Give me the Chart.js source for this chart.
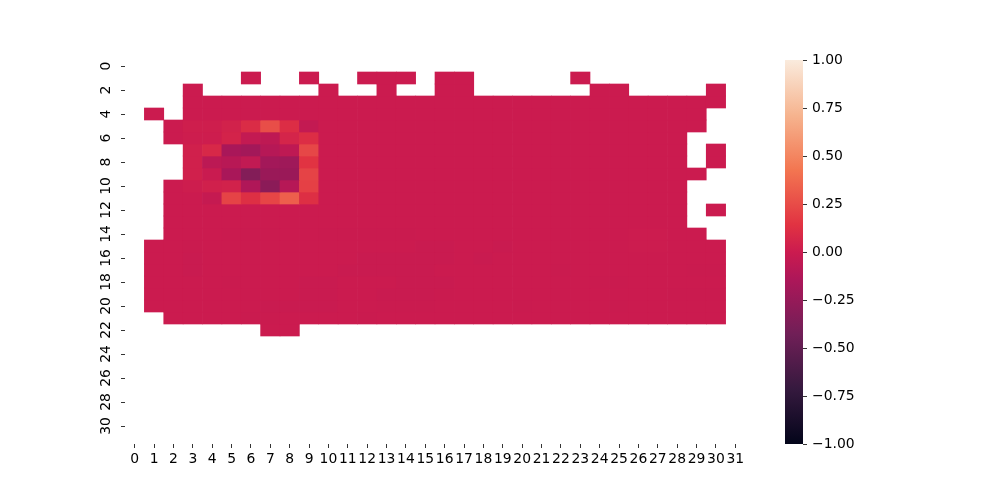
<!DOCTYPE html>
<html>
<head>
<meta charset="utf-8">
<script src="https://cdn.jsdelivr.net/npm/chart.js@4.4.1/dist/chart.umd.min.js"></script>
<style>
  body { margin: 0; background: #fff; }
  #wrap { position: relative; width: 1000px; height: 500px; }
  #heat { position: absolute; left: 0; top: 0; }
  #cbar { position: absolute; left: 770px; top: 0; }
</style>
</head>
<body>
<div id="wrap">
  <canvas id="heat" width="1000" height="500"></canvas>
  <canvas id="cbar" width="100" height="500"></canvas>
</div>
<script>
const _ = null;

// column labels (x) and labelled rows (y)
const xLabels = ['0','1','2','3','4','5','6','7','8','9','10','11','12','13','14','15',
                 '16','17','18','19','20','21','22','23','24','25','26','27','28','29','30','31'];
const yTicks = [0, 2, 4, 6, 8, 10, 12, 14, 16, 18, 20, 22, 24, 26, 28, 30];
const cbarMin = -1;
const cbarMax = 1;

// cell values, one list per row (null = no data)
const cellValues = [
  [_,_,_,_,_,_,_,_,_,_,  _,_,_,_,_,_,_,_,_,_,  _,_,_,_,_,_,_,_,_,_,  _,_],
  [_,_,_,_,_,_,0,_,_,0,  _,_,0,0,0,_,0,0,_,_,  _,_,_,0,_,_,_,_,_,_,  _,_],
  [_,_,_,0,_,_,_,_,_,_,  0,_,_,0,_,_,0,0,_,_,  _,_,_,_,0,0,_,_,_,_,  0,_],
  [_,_,_,0,0,0,0,0,0,0,  0,0,0,0,0,0,0,0,0,0,  0,0,0,0,0,0,0,0,0,0,  0,_],
  [_,0,_,0,0,0,0,0,0,0,  0,0,0,0,0,0,0,0,0,0,  0,0,0,0,0,0,0,0,0,0,  _,_],
  [_,_,0,.02,.02,.04,.10,.26,.11,-.04,  0,0,0,0,0,0,0,0,0,0,  0,0,0,0,0,0,0,0,0,0,  _,_],
  [_,_,0,.01,.01,.05,-.04,-.06,.06,.11,  0,0,0,0,0,0,0,0,0,0,  0,0,0,0,0,0,0,0,0,_,  _,_],
  [_,_,_,.03,.08,-.16,-.19,-.10,-.06,.23,  0,0,0,0,0,0,0,0,0,0,  0,0,0,0,0,0,0,0,0,_,  0,_],
  [_,_,_,.03,-.07,-.09,-.05,-.19,-.21,.14,  0,0,0,0,0,0,0,0,0,0,  0,0,0,0,0,0,0,0,0,_,  0,_],
  [_,_,_,.03,-.01,-.16,-.34,-.23,-.23,.21,  0,0,0,0,0,0,0,0,0,0,  0,0,0,0,0,0,0,0,0,0,  _,_],
  [_,_,0,.01,.03,.04,-.13,-.30,-.10,.20,  0,0,0,0,0,0,0,0,0,0,  0,0,0,0,0,0,0,0,0,_,  _,_],
  [_,_,0,0,-.03,.21,.12,.22,.33,.12,  0,0,0,0,0,0,0,0,0,0,  0,0,0,0,0,0,0,0,0,_,  _,_],
  [_,_,0,0,0,0,0,0,0,0,  0,0,0,0,0,0,0,0,0,0,  0,0,0,0,0,0,0,0,0,_,  0,_],
  [_,_,0,0,0,0,0,0,0,0,  0,0,0,0,0,0,0,0,0,0,  0,0,0,0,0,0,0,0,0,_,  _,_],
  [_,_,0,0,0,-.005,-.005,-.005,0,0,  -.005,-.005,-.005,-.005,-.005,0,0,0,0,0,  0,0,0,0,0,0,.005,.005,0,0,  _,_],
  [_,0,0,-.005,0,0,0,0,0,0,  0,0,0,0,0,-.01,-.01,0,0,-.01,  0,0,0,0,0,0,.005,.005,0,0,  0,_],
  [_,0,0,-.01,0,0,0,0,0,0,  0,0,-.01,-.01,-.01,-.01,-.01,0,-.01,0,  0,0,0,0,0,0,0,0,0,0,  0,_],
  [_,0,0,-.01,0,0,0,0,0,0,  0,-.01,-.01,-.01,-.01,-.01,0,0,0,0,  0,0,-.005,0,0,0,0,0,0,-.005,  -.005,_],
  [_,0,0,0,0,-.005,0,0,0,-.01,  -.01,0,0,0,-.01,-.01,-.01,0,0,0,  0,0,0,0,-.005,-.005,0,0,0,0,  0,_],
  [_,0,0,0,0,0,0,0,0,-.01,  -.01,0,0,-.01,-.01,-.01,-.005,0,0,0,  0,0,0,0,0,0,0,0,-.005,-.005,  -.005,_],
  [_,0,0,0,0,0,0,-.01,-.01,-.01,  -.01,0,0,-.005,-.005,-.005,0,0,0,0,  -.005,0,0,0,0,-.005,0,0,0,0,  0,_],
  [_,_,0,0,0,0,-.005,-.005,0,0,  0,0,-.005,0,0,0,0,0,0,0,  0,0,0,0,0,0,0,0,0,0,  0,_],
  [_,_,_,_,_,_,_,0,0,_,  _,_,_,_,_,_,_,_,_,_,  _,_,_,_,_,_,_,_,_,_,  _,_],
  [_,_,_,_,_,_,_,_,_,_,  _,_,_,_,_,_,_,_,_,_,  _,_,_,_,_,_,_,_,_,_,  _,_],
  [_,_,_,_,_,_,_,_,_,_,  _,_,_,_,_,_,_,_,_,_,  _,_,_,_,_,_,_,_,_,_,  _,_],
  [_,_,_,_,_,_,_,_,_,_,  _,_,_,_,_,_,_,_,_,_,  _,_,_,_,_,_,_,_,_,_,  _,_],
  [_,_,_,_,_,_,_,_,_,_,  _,_,_,_,_,_,_,_,_,_,  _,_,_,_,_,_,_,_,_,_,  _,_],
  [_,_,_,_,_,_,_,_,_,_,  _,_,_,_,_,_,_,_,_,_,  _,_,_,_,_,_,_,_,_,_,  _,_],
  [_,_,_,_,_,_,_,_,_,_,  _,_,_,_,_,_,_,_,_,_,  _,_,_,_,_,_,_,_,_,_,  _,_],
  [_,_,_,_,_,_,_,_,_,_,  _,_,_,_,_,_,_,_,_,_,  _,_,_,_,_,_,_,_,_,_,  _,_],
  [_,_,_,_,_,_,_,_,_,_,  _,_,_,_,_,_,_,_,_,_,  _,_,_,_,_,_,_,_,_,_,  _,_],
  [_,_,_,_,_,_,_,_,_,_,  _,_,_,_,_,_,_,_,_,_,  _,_,_,_,_,_,_,_,_,_,  _,_]
];

cellValues.forEach((row, i) => {
  if (row.length !== xLabels.length) throw new Error('row ' + i + ' has ' + row.length + ' cells');
});

// seaborn "rocket" colormap, approximated by stops
const rocketStops = [
  [0, '#03051a'], [1 / 7, '#35193e'], [2 / 7, '#701f57'], [3 / 7, '#ad1759'],
  [0.5, '#cb1b4f'], [4 / 7, '#e13342'], [5 / 7, '#f37651'], [6 / 7, '#f6b48f'], [1, '#faebdd']
];

function hexToRgb(h) {
  return [parseInt(h.slice(1, 3), 16), parseInt(h.slice(3, 5), 16), parseInt(h.slice(5, 7), 16)];
}

function rocket(v) {
  let p = (v - cbarMin) / (cbarMax - cbarMin);
  p = Math.max(0, Math.min(1, p));
  for (let i = 1; i < rocketStops.length; i++) {
    const [p1, c1] = rocketStops[i];
    if (p <= p1) {
      const [p0, c0] = rocketStops[i - 1];
      const t = (p - p0) / (p1 - p0);
      const a = hexToRgb(c0), b = hexToRgb(c1);
      const rgb = a.map((x, k) => Math.round(x + (b[k] - x) * t));
      return `rgb(${rgb[0]},${rgb[1]},${rgb[2]})`;
    }
  }
  return rocketStops[rocketStops.length - 1][1];
}

const font = { family: "'DejaVu Sans', sans-serif", size: 13.9 };
const tickColor = '#000';

// one floating-bar dataset per row, bars span [row, row + 1]
const datasets = cellValues.map((row, r) => ({
  label: 'row ' + r,
  data: row.map(v => (v === null ? null : [r, r + 1])),
  backgroundColor: row.map(v => (v === null ? 'rgba(0,0,0,0)' : rocket(v))),
  borderWidth: 0,
  grouped: false,
  barPercentage: 1,
  categoryPercentage: 1
}));

new Chart(document.getElementById('heat'), {
  type: 'bar',
  data: { labels: xLabels, datasets: datasets },
  options: {
    responsive: false,
    animation: false,
    layout: { padding: { left: 85, right: 255, top: 60, bottom: 16 } },
    plugins: { legend: { display: false }, tooltip: { enabled: false } },
    scales: {
      x: {
        type: 'category',
        offset: true,
        afterFit: s => { s.height = 40; },
        border: { display: false },
        grid: { display: true, drawOnChartArea: false, drawTicks: true, tickLength: 4, offset: false,
                color: tickColor, lineWidth: 0.8 },
        ticks: { color: tickColor, font: font, autoSkip: false, maxRotation: 0, minRotation: 0, padding: 3 }
      },
      y: {
        type: 'linear',
        min: 0,
        max: cellValues.length,
        reverse: true,
        afterFit: s => { s.width = 40; },
        afterBuildTicks: s => { s.ticks = yTicks.map(t => ({ value: t + 0.5 })); },
        border: { display: false },
        grid: { display: true, drawOnChartArea: false, drawTicks: true, tickLength: 4,
                color: tickColor, lineWidth: 0.8 },
        ticks: {
          color: tickColor, font: font, autoSkip: false,
          minRotation: 90, maxRotation: 90, crossAlign: 'center', padding: 6,
          callback: v => String(v - 0.5)
        }
      }
    }
  }
});

// colour bar
function cbarGradient(ctx) {
  const chart = ctx.chart;
  if (!chart.chartArea) return null;
  const y = chart.scales.y;
  const g = chart.ctx.createLinearGradient(0, y.getPixelForValue(cbarMin), 0, y.getPixelForValue(cbarMax));
  rocketStops.forEach(([p, c]) => g.addColorStop(p, c));
  return g;
}

new Chart(document.getElementById('cbar'), {
  type: 'bar',
  data: {
    labels: [''],
    datasets: [{ data: [[cbarMin, cbarMax]], backgroundColor: cbarGradient, borderWidth: 0,
                 barPercentage: 1, categoryPercentage: 1 }]
  },
  options: {
    responsive: false,
    animation: false,
    layout: { padding: { left: 15, right: 0, top: 60, bottom: 56 } },
    plugins: { legend: { display: false }, tooltip: { enabled: false } },
    scales: {
      x: { display: false },
      y: {
        position: 'right',
        min: cbarMin,
        max: cbarMax,
        afterFit: s => { s.width = 67; },
        border: { display: false },
        grid: { display: true, drawOnChartArea: false, drawTicks: true, tickLength: 4,
                color: tickColor, lineWidth: 0.8 },
        ticks: {
          stepSize: 0.25, color: tickColor, font: font, padding: 5,
          callback: v => (v < 0 ? '\u2212' : '') + Math.abs(v).toFixed(2)
        }
      }
    }
  }
});
</script>
</body>
</html>
